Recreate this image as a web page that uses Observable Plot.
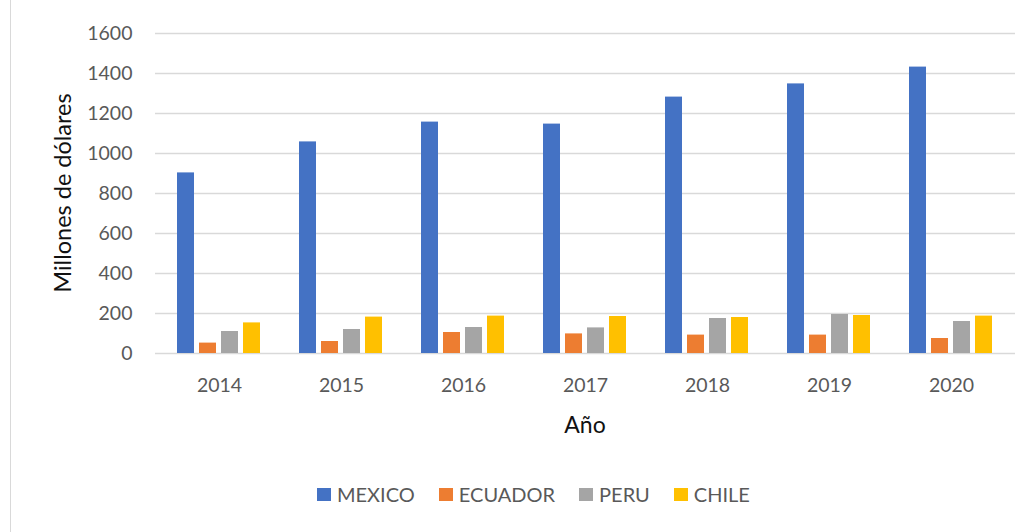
<!DOCTYPE html>
<html>
<head>
<meta charset="utf-8">
<script src="https://cdn.jsdelivr.net/npm/d3@7"></script>
<script src="https://cdn.jsdelivr.net/npm/@observablehq/plot@0.6"></script>
<style>
  body { margin: 0; background: #fff; }
  #chart { position: relative; width: 1036px; height: 532px; overflow: hidden; font-family: Lato, "Liberation Sans", sans-serif; background: #fff; }
  #chart svg { position: absolute; left: 0; top: 0; }
  .border { position: absolute; left: 10px; top: 0; width: 1px; height: 532px; background: #d9d9d9; }
  .ylabel { position: absolute; left: 62px; top: 193px; transform: translate(-50%, -50%) rotate(-90deg); white-space: nowrap; font-size: 23.5px; color: #111; }
  .xlabel { position: absolute; left: 585px; top: 424px; transform: translate(-50%, -50%); font-size: 23px; color: #111; }
  .legend { position: absolute; left: 317px; top: 482px; display: flex; align-items: center; font-size: 20px; color: #595959; }
  .legend .item { display: flex; align-items: center; margin-right: 24px; }
  .legend .sw { width: 14px; height: 13px; margin-right: 6px; }
</style>
</head>
<body>
<div id="chart"></div>
<script>
// ---- data ----
const years = ["2014", "2015", "2016", "2017", "2018", "2019", "2020"];
const series = ["MEXICO", "ECUADOR", "PERU", "CHILE"];
const mexico  = [903, 1058, 1157, 1147, 1282, 1348, 1432];
const ecuador = [52, 60, 105, 98, 92, 92, 75];
const peru    = [110, 120, 130, 128, 175, 195, 160];
const chile   = [153, 182, 187, 185, 180, 190, 187];
const colors  = ["#4472C4", "#ED7D31", "#A5A5A5", "#FFC000"];
const yTicks  = [0, 200, 400, 600, 800, 1000, 1200, 1400, 1600];
const yLabel = "Millones de dólares";
const xLabel = "Año";

const valuesBySeries = [mexico, ecuador, peru, chile];
const data = years.flatMap((yr, i) => series.map((s, j) => ({ year: yr, series: s, value: valuesBySeries[j][i] })));

// ---- layout ----
const W = 1036, H = 450, mL = 155, mR = 21, mT = 33, mB = 97;
const chart = document.getElementById("chart");

const common = { width: W, height: H, marginLeft: mL, marginRight: mR, marginTop: mT, marginBottom: mB };

// background: gridlines + y axis
const bg = Plot.plot({
  ...common,
  style: { fontFamily: "Lato, sans-serif", fontSize: "19.5px", color: "#595959", background: "transparent", overflow: "visible" },
  x: { axis: null, domain: [0, 1] },
  y: { domain: [0, 1600], ticks: 8, tickSize: 0, tickPadding: 23, tickFormat: d3.format("d"), label: null },
  marks: [
    Plot.ruleY(yTicks, { stroke: "#d9d9d9", strokeWidth: 1.3 })
  ]
});
chart.appendChild(bg);

// foreground: grouped bars
const fg = Plot.plot({
  ...common,
  style: { fontFamily: "Lato, sans-serif", fontSize: "19.5px", color: "#595959", background: "transparent", overflow: "visible" },
  facet: { data, x: "year" },
  fx: { domain: years, paddingInner: 0.28, paddingOuter: 0.14, axis: "bottom", tickSize: 0, tickPadding: 25, label: null },
  x: { domain: series, axis: null, paddingInner: 0.21, paddingOuter: 0.105 },
  y: { domain: [0, 1600], axis: null },
  color: { domain: series, range: colors },
  marks: [
    Plot.barY(data, { x: "series", y: "value", fill: "series" })
  ]
});
chart.appendChild(fg);

// labels & legend
const border = document.createElement("div"); border.className = "border"; chart.appendChild(border);
const yl = document.createElement("div"); yl.className = "ylabel"; yl.textContent = yLabel; chart.appendChild(yl);
const xl = document.createElement("div"); xl.className = "xlabel"; xl.textContent = xLabel; chart.appendChild(xl);
const lg = document.createElement("div"); lg.className = "legend";
series.forEach((s, i) => {
  const it = document.createElement("div"); it.className = "item";
  const sw = document.createElement("div"); sw.className = "sw"; sw.style.background = colors[i];
  const tx = document.createElement("span"); tx.textContent = s;
  it.appendChild(sw); it.appendChild(tx); lg.appendChild(it);
});
chart.appendChild(lg);
</script>
</body>
</html>
